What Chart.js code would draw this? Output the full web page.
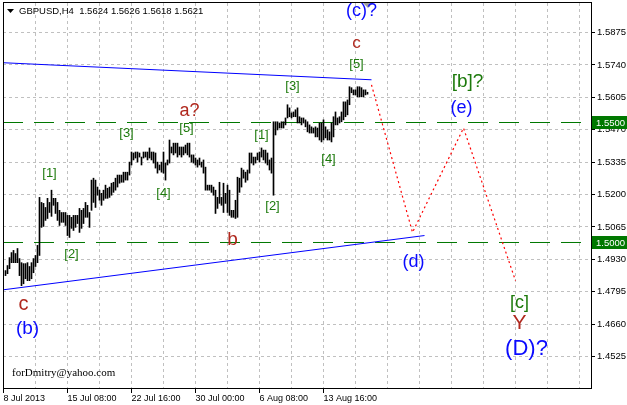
<!DOCTYPE html>
<html><head><meta charset="utf-8">
<script src="https://cdn.jsdelivr.net/npm/chart.js@4.4.0/dist/chart.umd.min.js"></script>
<style>html,body{margin:0;padding:0;background:#fff;overflow:hidden}canvas{display:block}</style>
</head><body>
<canvas id="c" width="627" height="405"></canvas>
<script>
const symbol = 'GBPUSD,H4';
const lastOHLC = [1.5624, 1.5626, 1.5618, 1.5621];
const watermark = 'forDmitry@yahoo.com';

// H4 bars, index 1..182 (high / low)
const barHigh = [
1.4883,1.4904,1.4937,1.4958,1.4967,1.4954,1.4975,1.4933,1.4916,1.4912,
1.4912,1.4916,1.4900,1.4916,1.4933,1.4946,1.4988,1.5188,1.5167,1.5163,
1.5146,1.5184,1.5167,1.5218,1.5184,1.5184,1.5167,1.5134,1.5125,1.5125,
1.5125,1.5113,1.5113,1.5105,1.5113,1.5113,1.5113,1.5142,1.5134,1.5142,
1.5167,1.5155,1.5125,1.5260,1.5268,1.5260,1.5231,1.5218,1.5205,1.5218,
1.5239,1.5226,1.5231,1.5247,1.5251,1.5268,1.5281,1.5281,1.5281,1.5293,
1.5293,1.5293,1.5335,1.5377,1.5373,1.5377,1.5377,1.5373,1.5356,1.5377,
1.5377,1.5377,1.5394,1.5377,1.5377,1.5373,1.5335,1.5323,1.5335,1.5377,
1.5331,1.5344,1.5427,1.5398,1.5414,1.5414,1.5414,1.5398,1.5398,1.5398,
1.5406,1.5414,1.5414,1.5365,1.5365,1.5352,1.5344,1.5352,1.5335,1.5344,
1.5314,1.5239,1.5239,1.5239,1.5231,1.5218,1.5188,1.5251,1.5188,1.5247,
1.5205,1.5239,1.5218,1.5134,1.5134,1.5176,1.5272,1.5268,1.5310,1.5302,
1.5293,1.5302,1.5373,1.5373,1.5356,1.5356,1.5373,1.5377,1.5394,1.5385,
1.5385,1.5373,1.5344,1.5352,1.5503,1.5503,1.5503,1.5498,1.5503,1.5503,
1.5519,1.5574,1.5561,1.5540,1.5544,1.5553,1.5561,1.5524,1.5519,1.5519,
1.5511,1.5503,1.5490,1.5482,1.5477,1.5482,1.5477,1.5498,1.5498,1.5511,
1.5482,1.5469,1.5461,1.5498,1.5524,1.5544,1.5519,1.5524,1.5544,1.5586,
1.5586,1.5594,1.5649,1.5645,1.5636,1.5636,1.5649,1.5649,1.5645,1.5636,
1.5636,1.5626];
const barLow = [
1.4862,1.4870,1.4891,1.4916,1.4916,1.4916,1.4916,1.4862,1.4820,1.4828,
1.4849,1.4841,1.4841,1.4849,1.4874,1.4900,1.4916,1.4946,1.5063,1.5067,
1.5092,1.5100,1.5125,1.5109,1.5155,1.5121,1.5092,1.5071,1.5084,1.5084,
1.5071,1.5029,1.5021,1.5059,1.5050,1.5063,1.5079,1.5042,1.5059,1.5079,
1.5105,1.5105,1.5063,1.5134,1.5167,1.5146,1.5197,1.5176,1.5155,1.5176,
1.5184,1.5184,1.5188,1.5197,1.5209,1.5218,1.5231,1.5247,1.5251,1.5251,
1.5260,1.5260,1.5281,1.5323,1.5344,1.5352,1.5335,1.5356,1.5323,1.5352,
1.5356,1.5344,1.5352,1.5344,1.5331,1.5310,1.5289,1.5302,1.5293,1.5289,
1.5260,1.5323,1.5331,1.5373,1.5365,1.5373,1.5356,1.5365,1.5356,1.5365,
1.5373,1.5365,1.5356,1.5335,1.5331,1.5323,1.5314,1.5323,1.5314,1.5289,
1.5218,1.5218,1.5218,1.5209,1.5197,1.5121,1.5142,1.5163,1.5155,1.5125,
1.5163,1.5125,1.5113,1.5105,1.5105,1.5100,1.5105,1.5209,1.5231,1.5268,
1.5251,1.5260,1.5289,1.5331,1.5323,1.5331,1.5344,1.5335,1.5356,1.5344,
1.5331,1.5323,1.5302,1.5289,1.5197,1.5448,1.5469,1.5477,1.5477,1.5477,
1.5490,1.5519,1.5524,1.5519,1.5524,1.5524,1.5498,1.5498,1.5490,1.5498,
1.5482,1.5461,1.5456,1.5456,1.5456,1.5440,1.5440,1.5427,1.5419,1.5427,
1.5436,1.5427,1.5427,1.5419,1.5440,1.5490,1.5490,1.5498,1.5503,1.5511,
1.5524,1.5532,1.5574,1.5624,1.5615,1.5615,1.5607,1.5607,1.5607,1.5607,
1.5615,1.5618];

const timeLabels = ['8 Jul 2013','15 Jul 08:00','22 Jul 16:00','30 Jul 00:00','6 Aug 08:00','13 Aug 16:00'];
const priceTicks = [1.4525,1.4660,1.4795,1.4930,1.5065,1.5200,1.5335,1.5470,1.5605,1.5740,1.5875];
const levelLines = [1.5500, 1.5000];
const upperTrend = [{x:0, y:1.5749}, {x:184, y:1.5678}];
const lowerTrend = [{x:0, y:1.4803}, {x:210.5, y:1.5029}];
const forecastPath = [{x:184, y:1.5657}, {x:204.5, y:1.5042}, {x:230, y:1.5477}, {x:256, y:1.4841}];

const BLUE = '#0a0aff', BROWN = '#b0281e', GREEN = '#1d7a0c';
const waveLabels = [
  {t:'(c)?', x:179,   y:1.5963, c:BLUE,  s:18},
  {t:'c',    x:176.5, y:1.5829, c:BROWN, s:17},
  {t:'[5]',  x:176.5, y:1.5741, c:GREEN, s:13},
  {t:'[b]?', x:232,   y:1.5670, c:GREEN, s:19},
  {t:'(e)',  x:229,   y:1.5561, c:BLUE,  s:18},
  {t:'[3]',  x:144.5, y:1.5649, c:GREEN, s:13},
  {t:'a?',   x:93,    y:1.5548, c:BROWN, s:18},
  {t:'[5]',  x:91.5,  y:1.5477, c:GREEN, s:13},
  {t:'[3]',  x:61.5,  y:1.5456, c:GREEN, s:13},
  {t:'[1]',  x:129,   y:1.5448, c:GREEN, s:13},
  {t:'[1]',  x:23,    y:1.5289, c:GREEN, s:13},
  {t:'[4]',  x:80,    y:1.5205, c:GREEN, s:13},
  {t:'[4]',  x:162.5, y:1.5348, c:GREEN, s:13},
  {t:'[2]',  x:134.5, y:1.5151, c:GREEN, s:13},
  {t:'[2]',  x:34,    y:1.4950, c:GREEN, s:13},
  {t:'b',    x:114.5, y:1.5012, c:BROWN, s:19},
  {t:'(d)',  x:205,   y:1.4920, c:BLUE,  s:18},
  {t:'c',    x:10,    y:1.4740, c:BROWN, s:20},
  {t:'(b)',  x:12,    y:1.4640, c:BLUE,  s:19},
  {t:'[c]',  x:258,   y:1.4749, c:GREEN, s:18},
  {t:'Y',    x:258,   y:1.4665, c:BROWN, s:21},
  {t:'(D)?', x:261.5, y:1.4556, c:BLUE,  s:22}
];

const FONT = "'Liberation Sans', Arial, sans-serif";
Chart.defaults.font.family = FONT;

const bars = barHigh.map((h, k) => ({x: k + 1, y: [barLow[k], h]}));
const xMin = -0.25, xMax = 293.75;
const yMin = 1.439373, yMax = 1.599793;
const hline = v => [{x:xMin, y:v}, {x:xMax, y:v}];

const overlay = {
  id: 'overlay',
  afterDraw(chart) {
    const {ctx, chartArea: a, scales: {x, y}} = chart;
    ctx.save();
    // frame
    ctx.strokeStyle = '#000'; ctx.lineWidth = 1; ctx.setLineDash([]);
    ctx.strokeRect(a.left + 0.5, a.top - 0.5, a.right - a.left, a.bottom - a.top + 1);
    // level price boxes
    ctx.font = '9.5px ' + FONT; ctx.textAlign = 'left'; ctx.textBaseline = 'middle';
    levelLines.forEach(v => {
      const py = Math.floor(y.getPixelForValue(v));
      ctx.fillStyle = '#007800';
      ctx.fillRect(a.right + 1, py - 6, 36, 13);
      ctx.fillStyle = '#fff';
      ctx.fillText(v.toFixed(4), a.right + 5, py + 1);
    });
    // header
    ctx.fillStyle = '#000';
    ctx.beginPath(); ctx.moveTo(7, 9); ctx.lineTo(14, 9); ctx.lineTo(10.5, 13); ctx.closePath(); ctx.fill();
    ctx.font = '9.5px ' + FONT; ctx.textBaseline = 'middle'; ctx.textAlign = 'left';
    ctx.fillText(symbol + '  ' + lastOHLC.map(v => v.toFixed(4)).join(' '), 19, 11);
    // shift marker
    const sx = Math.round(x.getPixelForValue(barHigh.length));
    ctx.fillStyle = '#a0a0a0';
    ctx.beginPath(); ctx.moveTo(sx - 5, 3); ctx.lineTo(sx + 5, 3); ctx.lineTo(sx, 8); ctx.closePath(); ctx.fill();
    // wave labels
    ctx.textAlign = 'center'; ctx.textBaseline = 'middle';
    waveLabels.forEach(l => {
      ctx.font = l.s + 'px ' + FONT;
      ctx.fillStyle = l.c;
      ctx.fillText(l.t, x.getPixelForValue(l.x), y.getPixelForValue(l.y));
    });
    // watermark
    ctx.font = "11px 'Liberation Serif', 'Times New Roman', serif";
    ctx.fillStyle = '#000'; ctx.textAlign = 'left';
    ctx.fillText(watermark, 12, 373);
    ctx.restore();
  }
};

new Chart(document.getElementById('c'), {
  type: 'bar',
  data: {
    datasets: [
      {type:'line', data: hline(levelLines[0]), borderColor:'#007800', borderWidth:1, borderDash:[20,11], pointRadius:0, order:3},
      {type:'line', data: hline(levelLines[1]), borderColor:'#007800', borderWidth:1, borderDash:[20,11], pointRadius:0, order:3},
      {type:'bar', data: bars, backgroundColor:'#000', borderWidth:0, barThickness:1, grouped:false, order:2},
      {type:'line', data: upperTrend, borderColor:'#0000ff', borderWidth:1, pointRadius:0, order:1},
      {type:'line', data: lowerTrend, borderColor:'#0000ff', borderWidth:1, pointRadius:0, order:1},
      {type:'line', data: forecastPath, borderColor:'#ff0000', borderWidth:1.2, borderDash:[2,3], pointRadius:0, order:0}
    ]
  },
  options: {
    responsive: false, animation: false, devicePixelRatio: 1, events: [],
    plugins: {legend: {display: false}, tooltip: {enabled: false}},
    layout: {padding: {left: 3, top: 3, right: 0, bottom: 0}},
    scales: {
      x: {
        type: 'linear', position: 'bottom', min: xMin, max: xMax, offset: false,
        afterBuildTicks: s => { const t = []; for (let v = 0; v <= 288; v += 16) t.push({value: v}); s.ticks = t; },
        ticks: {
          autoSkip: false, maxRotation: 0, minRotation: 0, align: 'start', padding: 0, color: '#000',
          font: {size: 9},
          callback: v => (v % 32 === 0 && v / 32 < timeLabels.length) ? timeLabels[v / 32] : ''
        },
        grid: {
          offset: false, lineWidth: 1,
          color: c => (c.tick && c.tick.value === 0) ? 'rgba(0,0,0,0)' : '#c0c0c0',
          tickColor: c => (c.tick && c.tick.value % 32 === 0 && c.tick.value / 32 < timeLabels.length) ? '#000' : 'rgba(0,0,0,0)',
          tickLength: 5, tickWidth: 1, tickBorderDash: []
        },
        border: {display: false, dash: [3, 3]},
        afterFit: s => { s.height = 17; s.paddingLeft = 0; s.paddingRight = 0; }
      },
      y: {
        type: 'linear', position: 'right', min: yMin, max: yMax,
        afterBuildTicks: s => { s.ticks = priceTicks.map(v => ({value: v})); },
        ticks: {autoSkip: false, padding: 2, color: '#000', font: {size: 9.5}, callback: v => Number(v).toFixed(4)},
        grid: {color: '#c0c0c0', lineWidth: 1, tickColor: '#000', tickLength: 4, tickWidth: 1, tickBorderDash: []},
        border: {display: false, dash: [3, 3]},
        afterFit: s => { s.width = 36; s.paddingTop = 0; s.paddingBottom = 0; }
      }
    }
  },
  plugins: [overlay]
});
</script>
</body></html>
